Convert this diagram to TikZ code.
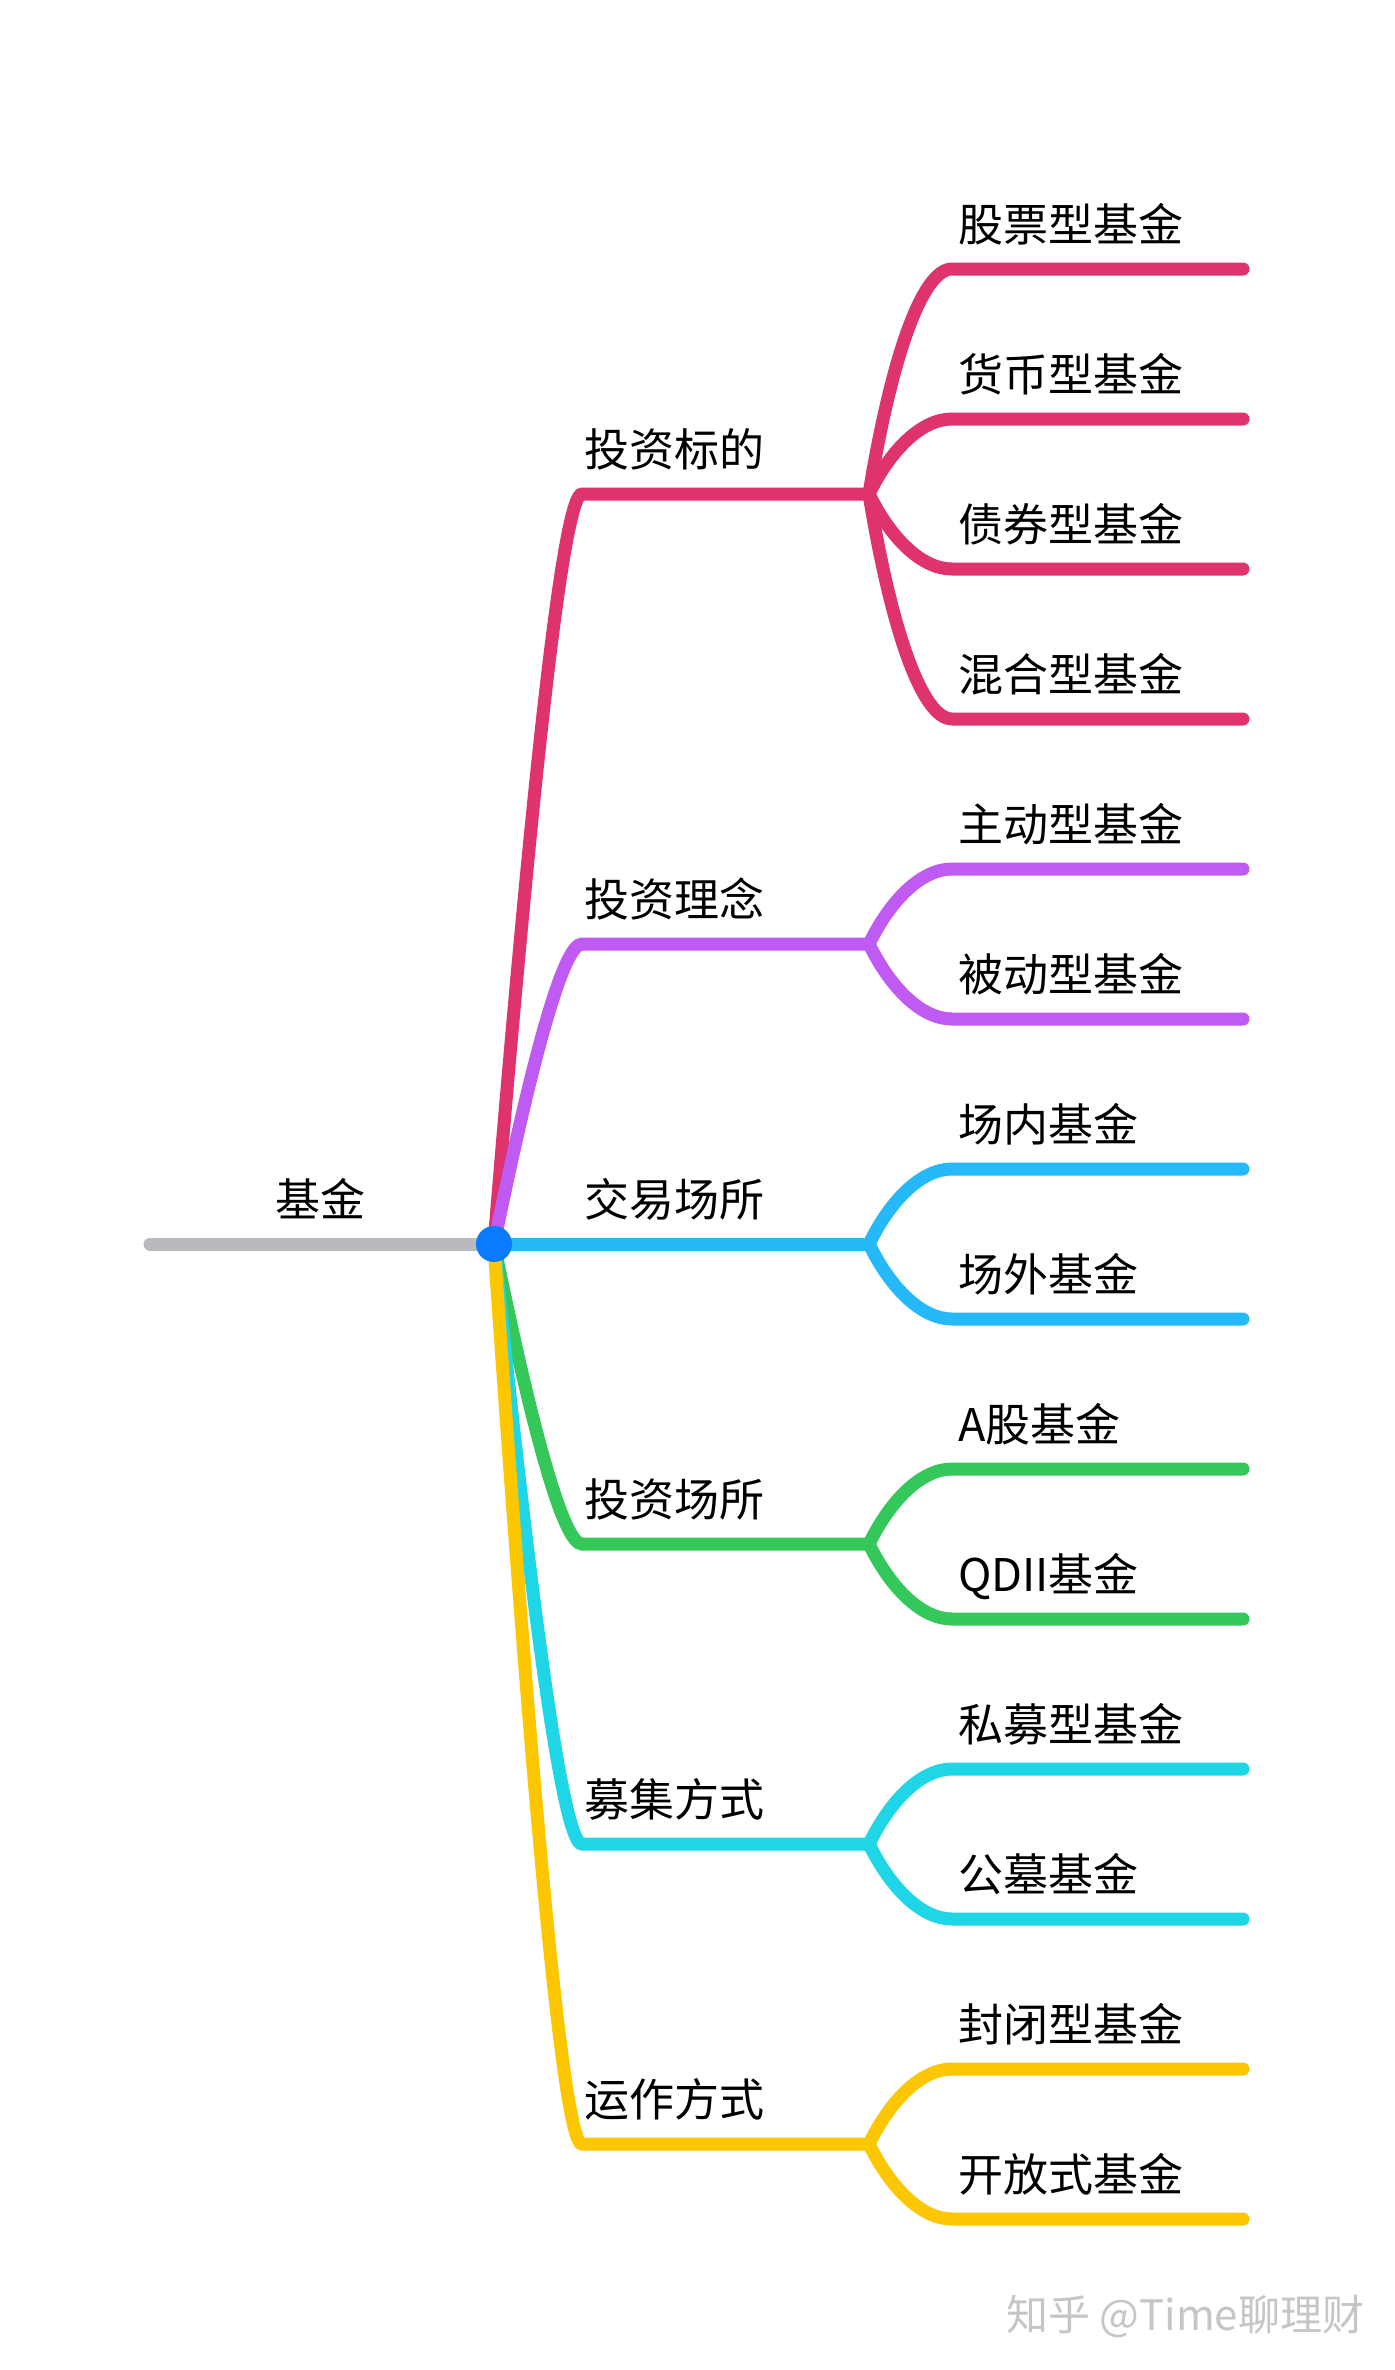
\documentclass[tikz,border=0pt]{standalone}
\usepackage{fontspec}
\setmainfont{Noto Sans CJK SC}
\usepackage{tikz}
\definecolor{mapgray}{RGB}{186,186,190}
\definecolor{mapred}{RGB}{222,51,107}
\definecolor{mappurple}{RGB}{191,90,242}
\definecolor{mapblue}{RGB}{38,185,250}
\definecolor{mapgreen}{RGB}{52,199,89}
\definecolor{mapcyan}{RGB}{30,214,230}
\definecolor{mapyellow}{RGB}{252,198,0}
\definecolor{mapdot}{RGB}{10,122,255}
\tikzset{
  limb/.style={line width=13pt, line cap=round},
  topic/.style={anchor=base west, inner sep=0pt, font=\fontsize{45}{50}\selectfont},
  watermark/.style={anchor=base west, inner sep=0pt, text=gray!45, font=\fontsize{42}{48}\selectfont}
}

\begin{document}
\begin{tikzpicture}[x=1pt, y=-1pt]
    \fill[white] (0,0) rectangle (1395,2370);
    \useasboundingbox (0,0) rectangle (1395,2370);
    % Root
    \coordinate (hub) at (494,1244);
    \coordinate (stem) at (150,1244);
    \draw[limb, mapgray] (stem) -- (hub);
    \node[topic, anchor=base] (root) at (320,1216) {基金};
    % Main branches
    \foreach \b/\y/\c/\t in {1/494/mapred/投资标的, 2/944/mappurple/投资理念,
        3/1244/mapblue/交易场所, 4/1544/mapgreen/投资场所,
        5/1844/mapcyan/募集方式, 6/2144/mapyellow/运作方式} {
        \pgfmathsetmacro{\dy}{0.65*(\y-1244)}
        \coordinate (b\b-in) at (582,\y);
        \coordinate (b\b-fork) at (869,\y);
        \draw[limb, \c] (hub) .. controls +(40,\dy) and +(-18,0) .. (b\b-in) -- (b\b-fork);
        \node[topic] (b\b) at (584,\y-28) {\t};
    }
    \fill[mapdot] (hub) circle (18pt);
    % Leaves
    \foreach \k/\b/\yb/\c/\t in {0/1/494/mapred/股票型基金, 1/1/494/mapred/货币型基金,
        2/1/494/mapred/债券型基金, 3/1/494/mapred/混合型基金,
        4/2/944/mappurple/主动型基金, 5/2/944/mappurple/被动型基金,
        6/3/1244/mapblue/场内基金, 7/3/1244/mapblue/场外基金,
        8/4/1544/mapgreen/A股基金, 9/4/1544/mapgreen/QDII基金,
        10/5/1844/mapcyan/私募型基金, 11/5/1844/mapcyan/公墓基金,
        12/6/2144/mapyellow/封闭型基金, 13/6/2144/mapyellow/开放式基金} {
        \pgfmathsetmacro{\yl}{269+150*\k}
        \pgfmathsetmacro{\dy}{0.6*(\yl-\yb)}
        \coordinate (l\k-in) at (952,\yl);
        \coordinate (l\k-out) at (1243,\yl);
        \draw[limb, \c] (b\b-fork) .. controls +(22,\dy) and +(-30,0) .. (l\k-in) -- (l\k-out);
        \node[topic] (l\k) at (958,\yl-28) {\t};
    }
    % Watermark
    \node[watermark] (credit) at (1006,2330) {知乎 @Time聊理财};
\end{tikzpicture}
\end{document}
